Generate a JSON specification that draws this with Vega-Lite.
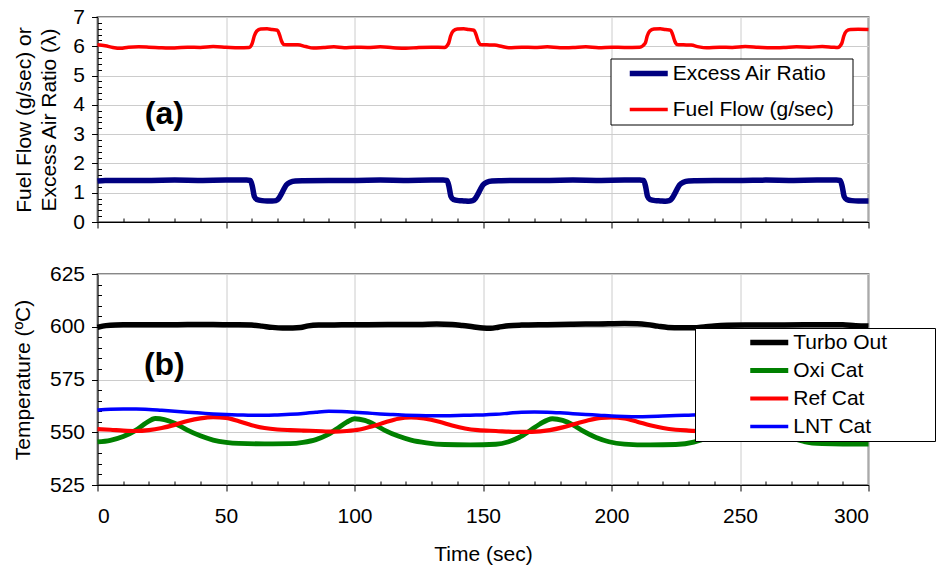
{
  "$schema": "https://vega.github.io/schema/vega-lite/v6.json",
  "background": "white",
  "padding": {"left": 10.5, "top": 5, "right": 0, "bottom": 0},
  "spacing": 29,
  "config": {
    "font": "Liberation Sans",
    "view": {"stroke": "#888888", "strokeWidth": 2},
    "axis": {
      "labelFont": "Liberation Sans", "labelFontSize": 21, "labelColor": "black",
      "titleFont": "Liberation Sans", "titleFontSize": 21, "titleFontWeight": "normal", "titleColor": "black",
      "domainColor": "black", "domainWidth": 1, "tickColor": "black", "tickWidth": 1,
      "gridColor": "#cccccc", "gridWidth": 1, "labelPadding": 7, "tickCount": 1000, "labelOverlap": false, "format": "d"
    },
    "legend": {
      "labelFont": "Liberation Sans", "labelFontSize": 21, "labelColor": "black", "labelLimit": 0,
      "symbolType": "stroke", "symbolSize": 1444, "strokeColor": "black", "fillColor": "white",
      "orient": "none", "clipHeight": 21, "labelOffset": 2,
      "titleOrient": "right", "titleFontSize": 2, "titleColor": "white"
    }
  },
  "resolve": {
    "scale": {"color": "independent", "strokeWidth": "independent"},
    "legend": {"color": "independent", "strokeWidth": "independent"}
  },
  "vconcat": [
    {
      "width": 771,
      "height": 205,
      "layer": [
        {
          "data": {"values": [
            {"s":"Excess Air Ratio","t":0,"v":1.40},{"s":"Excess Air Ratio","t":3,"v":1.42},{"s":"Excess Air Ratio","t":10,"v":1.42},{"s":"Excess Air Ratio","t":20,"v":1.42},{"s":"Excess Air Ratio","t":30,"v":1.43},{"s":"Excess Air Ratio","t":40,"v":1.42},{"s":"Excess Air Ratio","t":50,"v":1.43},{"s":"Excess Air Ratio","t":58,"v":1.43},
            {"s":"Excess Air Ratio","t":59.5,"v":1.42},{"s":"Excess Air Ratio","t":60.3,"v":1.2},{"s":"Excess Air Ratio","t":61,"v":0.88},{"s":"Excess Air Ratio","t":62,"v":0.77},{"s":"Excess Air Ratio","t":64,"v":0.73},{"s":"Excess Air Ratio","t":66,"v":0.72},{"s":"Excess Air Ratio","t":68,"v":0.72},{"s":"Excess Air Ratio","t":69.5,"v":0.73},{"s":"Excess Air Ratio","t":70.5,"v":0.8},{"s":"Excess Air Ratio","t":71.5,"v":0.95},{"s":"Excess Air Ratio","t":72.5,"v":1.12},{"s":"Excess Air Ratio","t":73.5,"v":1.27},{"s":"Excess Air Ratio","t":75,"v":1.36},{"s":"Excess Air Ratio","t":77,"v":1.40},{"s":"Excess Air Ratio","t":80,"v":1.41},
            {"s":"Excess Air Ratio","t":90,"v":1.42},{"s":"Excess Air Ratio","t":100,"v":1.42},{"s":"Excess Air Ratio","t":110,"v":1.43},{"s":"Excess Air Ratio","t":120,"v":1.42},{"s":"Excess Air Ratio","t":130,"v":1.43},{"s":"Excess Air Ratio","t":134.5,"v":1.43},
            {"s":"Excess Air Ratio","t":136,"v":1.42},{"s":"Excess Air Ratio","t":136.8,"v":1.2},{"s":"Excess Air Ratio","t":137.5,"v":0.88},{"s":"Excess Air Ratio","t":138.5,"v":0.77},{"s":"Excess Air Ratio","t":140.5,"v":0.73},{"s":"Excess Air Ratio","t":142.5,"v":0.72},{"s":"Excess Air Ratio","t":144.5,"v":0.71},{"s":"Excess Air Ratio","t":146,"v":0.73},{"s":"Excess Air Ratio","t":147,"v":0.8},{"s":"Excess Air Ratio","t":148,"v":0.95},{"s":"Excess Air Ratio","t":149,"v":1.12},{"s":"Excess Air Ratio","t":150,"v":1.27},{"s":"Excess Air Ratio","t":151.5,"v":1.36},{"s":"Excess Air Ratio","t":153.5,"v":1.40},{"s":"Excess Air Ratio","t":157,"v":1.41},
            {"s":"Excess Air Ratio","t":165,"v":1.42},{"s":"Excess Air Ratio","t":175,"v":1.42},{"s":"Excess Air Ratio","t":185,"v":1.43},{"s":"Excess Air Ratio","t":195,"v":1.42},{"s":"Excess Air Ratio","t":205,"v":1.43},{"s":"Excess Air Ratio","t":211,"v":1.43},
            {"s":"Excess Air Ratio","t":212.5,"v":1.42},{"s":"Excess Air Ratio","t":213.3,"v":1.2},{"s":"Excess Air Ratio","t":214,"v":0.88},{"s":"Excess Air Ratio","t":215,"v":0.77},{"s":"Excess Air Ratio","t":217,"v":0.73},{"s":"Excess Air Ratio","t":219,"v":0.72},{"s":"Excess Air Ratio","t":221,"v":0.71},{"s":"Excess Air Ratio","t":222.5,"v":0.73},{"s":"Excess Air Ratio","t":223.5,"v":0.8},{"s":"Excess Air Ratio","t":224.5,"v":0.95},{"s":"Excess Air Ratio","t":225.5,"v":1.12},{"s":"Excess Air Ratio","t":226.5,"v":1.27},{"s":"Excess Air Ratio","t":228,"v":1.36},{"s":"Excess Air Ratio","t":230,"v":1.40},{"s":"Excess Air Ratio","t":233,"v":1.41},
            {"s":"Excess Air Ratio","t":240,"v":1.42},{"s":"Excess Air Ratio","t":250,"v":1.42},{"s":"Excess Air Ratio","t":260,"v":1.43},{"s":"Excess Air Ratio","t":270,"v":1.42},{"s":"Excess Air Ratio","t":280,"v":1.43},{"s":"Excess Air Ratio","t":287.5,"v":1.43},
            {"s":"Excess Air Ratio","t":289,"v":1.42},{"s":"Excess Air Ratio","t":289.8,"v":1.2},{"s":"Excess Air Ratio","t":290.5,"v":0.88},{"s":"Excess Air Ratio","t":291.5,"v":0.77},{"s":"Excess Air Ratio","t":293.5,"v":0.73},{"s":"Excess Air Ratio","t":296,"v":0.72},{"s":"Excess Air Ratio","t":300,"v":0.72},

            {"s":"Fuel Flow (g/sec)","t":0,"v":6.05},{"s":"Fuel Flow (g/sec)","t":3,"v":6.02},{"s":"Fuel Flow (g/sec)","t":6,"v":5.96},{"s":"Fuel Flow (g/sec)","t":9,"v":5.93},{"s":"Fuel Flow (g/sec)","t":12,"v":5.97},{"s":"Fuel Flow (g/sec)","t":16,"v":5.98},{"s":"Fuel Flow (g/sec)","t":20,"v":5.97},{"s":"Fuel Flow (g/sec)","t":25,"v":5.95},{"s":"Fuel Flow (g/sec)","t":30,"v":5.94},{"s":"Fuel Flow (g/sec)","t":35,"v":5.97},{"s":"Fuel Flow (g/sec)","t":40,"v":5.96},{"s":"Fuel Flow (g/sec)","t":45,"v":5.99},{"s":"Fuel Flow (g/sec)","t":50,"v":5.97},{"s":"Fuel Flow (g/sec)","t":55,"v":5.95},{"s":"Fuel Flow (g/sec)","t":59,"v":5.96},
            {"s":"Fuel Flow (g/sec)","t":60.2,"v":6.1},{"s":"Fuel Flow (g/sec)","t":61,"v":6.35},{"s":"Fuel Flow (g/sec)","t":62,"v":6.52},{"s":"Fuel Flow (g/sec)","t":63.5,"v":6.59},{"s":"Fuel Flow (g/sec)","t":66,"v":6.6},{"s":"Fuel Flow (g/sec)","t":68,"v":6.57},{"s":"Fuel Flow (g/sec)","t":70,"v":6.55},{"s":"Fuel Flow (g/sec)","t":70.8,"v":6.4},{"s":"Fuel Flow (g/sec)","t":71.6,"v":6.18},{"s":"Fuel Flow (g/sec)","t":72.5,"v":6.06},{"s":"Fuel Flow (g/sec)","t":75,"v":6.05},{"s":"Fuel Flow (g/sec)","t":78,"v":6.05},{"s":"Fuel Flow (g/sec)","t":81,"v":5.99},{"s":"Fuel Flow (g/sec)","t":84,"v":5.94},{"s":"Fuel Flow (g/sec)","t":88,"v":5.96},{"s":"Fuel Flow (g/sec)","t":92,"v":5.98},{"s":"Fuel Flow (g/sec)","t":96,"v":5.95},{"s":"Fuel Flow (g/sec)","t":100,"v":5.97},{"s":"Fuel Flow (g/sec)","t":105,"v":5.96},{"s":"Fuel Flow (g/sec)","t":110,"v":5.98},{"s":"Fuel Flow (g/sec)","t":115,"v":5.95},{"s":"Fuel Flow (g/sec)","t":120,"v":5.93},{"s":"Fuel Flow (g/sec)","t":125,"v":5.96},{"s":"Fuel Flow (g/sec)","t":130,"v":5.97},{"s":"Fuel Flow (g/sec)","t":135,"v":5.96},
            {"s":"Fuel Flow (g/sec)","t":136.6,"v":6.1},{"s":"Fuel Flow (g/sec)","t":137.4,"v":6.35},{"s":"Fuel Flow (g/sec)","t":138.4,"v":6.52},{"s":"Fuel Flow (g/sec)","t":140,"v":6.59},{"s":"Fuel Flow (g/sec)","t":142.5,"v":6.6},{"s":"Fuel Flow (g/sec)","t":144.5,"v":6.57},{"s":"Fuel Flow (g/sec)","t":146.5,"v":6.55},{"s":"Fuel Flow (g/sec)","t":147.3,"v":6.4},{"s":"Fuel Flow (g/sec)","t":148.1,"v":6.18},{"s":"Fuel Flow (g/sec)","t":149,"v":6.06},{"s":"Fuel Flow (g/sec)","t":151.5,"v":6.05},{"s":"Fuel Flow (g/sec)","t":154.5,"v":6.04},{"s":"Fuel Flow (g/sec)","t":157.5,"v":5.99},{"s":"Fuel Flow (g/sec)","t":160,"v":5.95},{"s":"Fuel Flow (g/sec)","t":165,"v":5.97},{"s":"Fuel Flow (g/sec)","t":170,"v":5.96},{"s":"Fuel Flow (g/sec)","t":175,"v":5.98},{"s":"Fuel Flow (g/sec)","t":180,"v":5.95},{"s":"Fuel Flow (g/sec)","t":185,"v":5.96},{"s":"Fuel Flow (g/sec)","t":190,"v":5.98},{"s":"Fuel Flow (g/sec)","t":195,"v":5.95},{"s":"Fuel Flow (g/sec)","t":200,"v":5.97},{"s":"Fuel Flow (g/sec)","t":205,"v":5.96},{"s":"Fuel Flow (g/sec)","t":211,"v":5.97},
            {"s":"Fuel Flow (g/sec)","t":213.1,"v":6.1},{"s":"Fuel Flow (g/sec)","t":213.9,"v":6.35},{"s":"Fuel Flow (g/sec)","t":214.9,"v":6.52},{"s":"Fuel Flow (g/sec)","t":216.5,"v":6.59},{"s":"Fuel Flow (g/sec)","t":219,"v":6.6},{"s":"Fuel Flow (g/sec)","t":221,"v":6.57},{"s":"Fuel Flow (g/sec)","t":223,"v":6.55},{"s":"Fuel Flow (g/sec)","t":223.8,"v":6.4},{"s":"Fuel Flow (g/sec)","t":224.6,"v":6.18},{"s":"Fuel Flow (g/sec)","t":225.5,"v":6.06},{"s":"Fuel Flow (g/sec)","t":228,"v":6.05},{"s":"Fuel Flow (g/sec)","t":231,"v":6.04},{"s":"Fuel Flow (g/sec)","t":234,"v":5.98},{"s":"Fuel Flow (g/sec)","t":237,"v":5.95},{"s":"Fuel Flow (g/sec)","t":242,"v":5.97},{"s":"Fuel Flow (g/sec)","t":247,"v":5.96},{"s":"Fuel Flow (g/sec)","t":252,"v":5.99},{"s":"Fuel Flow (g/sec)","t":257,"v":5.97},{"s":"Fuel Flow (g/sec)","t":262,"v":5.95},{"s":"Fuel Flow (g/sec)","t":267,"v":5.96},{"s":"Fuel Flow (g/sec)","t":272,"v":5.98},{"s":"Fuel Flow (g/sec)","t":277,"v":5.97},{"s":"Fuel Flow (g/sec)","t":282,"v":5.99},{"s":"Fuel Flow (g/sec)","t":286,"v":5.97},{"s":"Fuel Flow (g/sec)","t":288,"v":5.96},
            {"s":"Fuel Flow (g/sec)","t":289.6,"v":6.1},{"s":"Fuel Flow (g/sec)","t":290.4,"v":6.35},{"s":"Fuel Flow (g/sec)","t":291.4,"v":6.52},{"s":"Fuel Flow (g/sec)","t":293,"v":6.57},{"s":"Fuel Flow (g/sec)","t":296,"v":6.58},{"s":"Fuel Flow (g/sec)","t":300,"v":6.57}
          ]},
          "mark": {"type": "line", "interpolate": "monotone"},
          "encoding": {
            "x": {"field": "t", "type": "quantitative", "scale": {"domain": [0, 300], "nice": false},
              "axis": {"values": [0,10,20,30,40,50,60,70,80,90,100,110,120,130,140,150,160,170,180,190,200,210,220,230,240,250,260,270,280,290,300],
                "labels": false, "title": null, "grid": true,
                "tickSize": {"condition": {"test": "datum.value % 50 === 0", "value": 6}, "value": -4},
                "gridOpacity": {"condition": {"test": "datum.value % 50 === 0", "value": 1}, "value": 0}}},
            "y": {"field": "v", "type": "quantitative", "scale": {"domain": [0, 7], "nice": false},
              "axis": {"values": [0,0.2,0.4,0.6,0.8,1,1.2,1.4,1.6,1.8,2,2.2,2.4,2.6,2.8,3,3.2,3.4,3.6,3.8,4,4.2,4.4,4.6,4.8,5,5.2,5.4,5.6,5.8,6,6.2,6.4,6.6,6.8,7],
                "title": ["Fuel Flow (g/sec) or", "Excess Air Ratio (λ)"], "titleLineHeight": 25, "titlePadding": 13, "grid": true,
                "labelExpr": "abs(datum.value - round(datum.value)) < 0.001 ? format(datum.value, 'd') : ''",
                "tickSize": {"condition": {"test": "abs(datum.value - round(datum.value)) < 0.001", "value": 6}, "value": -4},
                "gridOpacity": {"condition": {"test": "abs(datum.value - round(datum.value)) < 0.001", "value": 1}, "value": 0}}},
            "color": {"field": "s", "type": "nominal",
              "scale": {"domain": ["Excess Air Ratio", "Fuel Flow (g/sec)"], "range": ["#000080", "#ff0000"]},
              "legend": {"title": "\u00a0", "titlePadding": 14, "legendX": 513, "legendY": 41.5, "padding": 4.5, "rowPadding": 14, "symbolOffset": 11.75}},
            "strokeWidth": {"field": "s", "type": "nominal",
              "scale": {"domain": ["Excess Air Ratio", "Fuel Flow (g/sec)"], "range": [5.5, 3.5]},
              "legend": {"title": "\u00a0", "titlePadding": 14, "legendX": 513, "legendY": 41.5, "padding": 4.5, "rowPadding": 14, "symbolOffset": 11.75}}
          }
        },
        {
          "data": {"values": [{"label": "(a)", "t": 26, "v": 3.7}]},
          "mark": {"type": "text", "fontSize": 32, "fontWeight": "bold", "font": "Liberation Sans", "align": "center", "baseline": "middle", "color": "black"},
          "encoding": {
            "x": {"field": "t", "type": "quantitative"},
            "y": {"field": "v", "type": "quantitative"},
            "text": {"field": "label"}
          }
        }
      ]
    },
    {
      "width": 771,
      "height": 211,
      "layer": [
        {
          "data": {"values": [
            {"s":"Turbo Out","t":0,"v":599.7},{"s":"Turbo Out","t":2,"v":600.3},{"s":"Turbo Out","t":5,"v":600.7},{"s":"Turbo Out","t":10,"v":600.9},{"s":"Turbo Out","t":20,"v":601},{"s":"Turbo Out","t":30,"v":601},{"s":"Turbo Out","t":40,"v":601.1},{"s":"Turbo Out","t":50,"v":601},{"s":"Turbo Out","t":55,"v":601},{"s":"Turbo Out","t":60,"v":600.8},{"s":"Turbo Out","t":64,"v":600.3},{"s":"Turbo Out","t":68,"v":599.7},{"s":"Turbo Out","t":72,"v":599.4},{"s":"Turbo Out","t":76,"v":599.4},{"s":"Turbo Out","t":79,"v":599.6},{"s":"Turbo Out","t":82,"v":600.4},{"s":"Turbo Out","t":86,"v":600.8},{"s":"Turbo Out","t":95,"v":600.9},{"s":"Turbo Out","t":105,"v":601},{"s":"Turbo Out","t":115,"v":601.1},{"s":"Turbo Out","t":125,"v":601.1},{"s":"Turbo Out","t":132,"v":601.3},{"s":"Turbo Out","t":138,"v":601.1},{"s":"Turbo Out","t":142,"v":600.6},{"s":"Turbo Out","t":146,"v":600},{"s":"Turbo Out","t":150,"v":599.4},{"s":"Turbo Out","t":153,"v":599.3},{"s":"Turbo Out","t":156,"v":599.8},{"s":"Turbo Out","t":160,"v":600.5},{"s":"Turbo Out","t":165,"v":600.8},{"s":"Turbo Out","t":175,"v":601},{"s":"Turbo Out","t":185,"v":601.2},{"s":"Turbo Out","t":195,"v":601.3},{"s":"Turbo Out","t":205,"v":601.5},{"s":"Turbo Out","t":210,"v":601.4},{"s":"Turbo Out","t":214,"v":601},{"s":"Turbo Out","t":218,"v":600.3},{"s":"Turbo Out","t":222,"v":599.7},{"s":"Turbo Out","t":227,"v":599.5},{"s":"Turbo Out","t":232,"v":599.5},{"s":"Turbo Out","t":236,"v":599.9},{"s":"Turbo Out","t":240,"v":600.4},{"s":"Turbo Out","t":245,"v":600.7},{"s":"Turbo Out","t":255,"v":600.8},{"s":"Turbo Out","t":265,"v":600.8},{"s":"Turbo Out","t":275,"v":600.9},{"s":"Turbo Out","t":285,"v":601},{"s":"Turbo Out","t":290,"v":600.9},{"s":"Turbo Out","t":295,"v":600.5},{"s":"Turbo Out","t":300,"v":600.3},

            {"s":"Oxi Cat","t":0,"v":545.4},{"s":"Oxi Cat","t":5,"v":546.2},{"s":"Oxi Cat","t":10,"v":548},{"s":"Oxi Cat","t":15,"v":551},{"s":"Oxi Cat","t":19,"v":554.5},{"s":"Oxi Cat","t":22.5,"v":556.5},{"s":"Oxi Cat","t":26,"v":556},{"s":"Oxi Cat","t":30,"v":554.3},{"s":"Oxi Cat","t":35,"v":551},{"s":"Oxi Cat","t":40,"v":548.3},{"s":"Oxi Cat","t":45,"v":546.3},{"s":"Oxi Cat","t":50,"v":545.2},{"s":"Oxi Cat","t":55,"v":544.7},{"s":"Oxi Cat","t":65,"v":544.5},{"s":"Oxi Cat","t":75,"v":544.6},{"s":"Oxi Cat","t":80,"v":545.2},{"s":"Oxi Cat","t":85,"v":546.5},{"s":"Oxi Cat","t":89,"v":548.5},{"s":"Oxi Cat","t":93,"v":551.5},{"s":"Oxi Cat","t":97,"v":554.8},{"s":"Oxi Cat","t":100,"v":556.4},{"s":"Oxi Cat","t":104,"v":555.6},{"s":"Oxi Cat","t":108,"v":553.5},{"s":"Oxi Cat","t":112,"v":550.8},{"s":"Oxi Cat","t":117,"v":548.2},{"s":"Oxi Cat","t":122,"v":546.3},{"s":"Oxi Cat","t":128,"v":545},{"s":"Oxi Cat","t":135,"v":544.2},{"s":"Oxi Cat","t":145,"v":544},{"s":"Oxi Cat","t":155,"v":544.3},{"s":"Oxi Cat","t":160,"v":545.5},{"s":"Oxi Cat","t":164,"v":547.5},{"s":"Oxi Cat","t":168,"v":550.5},{"s":"Oxi Cat","t":172,"v":553.8},{"s":"Oxi Cat","t":177,"v":556.4},{"s":"Oxi Cat","t":181,"v":555.6},{"s":"Oxi Cat","t":185,"v":553.5},{"s":"Oxi Cat","t":189,"v":550.5},{"s":"Oxi Cat","t":194,"v":547.5},{"s":"Oxi Cat","t":199,"v":545.5},{"s":"Oxi Cat","t":205,"v":544.4},{"s":"Oxi Cat","t":215,"v":544},{"s":"Oxi Cat","t":225,"v":544.2},{"s":"Oxi Cat","t":232,"v":545.3},{"s":"Oxi Cat","t":237,"v":547.3},{"s":"Oxi Cat","t":241,"v":550.3},{"s":"Oxi Cat","t":245,"v":553.6},{"s":"Oxi Cat","t":250,"v":556},{"s":"Oxi Cat","t":254,"v":556.5},{"s":"Oxi Cat","t":258,"v":555.5},{"s":"Oxi Cat","t":262,"v":553.5},{"s":"Oxi Cat","t":266,"v":550.5},{"s":"Oxi Cat","t":270,"v":547.5},{"s":"Oxi Cat","t":275,"v":545.6},{"s":"Oxi Cat","t":282,"v":544.6},{"s":"Oxi Cat","t":290,"v":544.4},{"s":"Oxi Cat","t":300,"v":544.4},

            {"s":"Ref Cat","t":0,"v":551.5},{"s":"Ref Cat","t":5,"v":551.2},{"s":"Ref Cat","t":10,"v":550.8},{"s":"Ref Cat","t":15,"v":550.6},{"s":"Ref Cat","t":20,"v":551},{"s":"Ref Cat","t":25,"v":552},{"s":"Ref Cat","t":30,"v":553.5},{"s":"Ref Cat","t":35,"v":555.3},{"s":"Ref Cat","t":40,"v":556.6},{"s":"Ref Cat","t":45,"v":557.2},{"s":"Ref Cat","t":50,"v":556.8},{"s":"Ref Cat","t":55,"v":555.2},{"s":"Ref Cat","t":60,"v":553.3},{"s":"Ref Cat","t":65,"v":552},{"s":"Ref Cat","t":70,"v":551.3},{"s":"Ref Cat","t":75,"v":551},{"s":"Ref Cat","t":80,"v":550.8},{"s":"Ref Cat","t":85,"v":550.6},{"s":"Ref Cat","t":92,"v":550.3},{"s":"Ref Cat","t":97,"v":550.6},{"s":"Ref Cat","t":102,"v":551.3},{"s":"Ref Cat","t":107,"v":552.8},{"s":"Ref Cat","t":112,"v":554.7},{"s":"Ref Cat","t":117,"v":556.4},{"s":"Ref Cat","t":122,"v":557},{"s":"Ref Cat","t":127,"v":556.5},{"s":"Ref Cat","t":133,"v":555},{"s":"Ref Cat","t":138,"v":553.2},{"s":"Ref Cat","t":143,"v":551.8},{"s":"Ref Cat","t":148,"v":551},{"s":"Ref Cat","t":155,"v":550.6},{"s":"Ref Cat","t":163,"v":550.2},{"s":"Ref Cat","t":169,"v":550.2},{"s":"Ref Cat","t":176,"v":551},{"s":"Ref Cat","t":181,"v":552.3},{"s":"Ref Cat","t":186,"v":554},{"s":"Ref Cat","t":191,"v":555.7},{"s":"Ref Cat","t":196,"v":556.8},{"s":"Ref Cat","t":200,"v":557},{"s":"Ref Cat","t":205,"v":556.5},{"s":"Ref Cat","t":210,"v":555},{"s":"Ref Cat","t":215,"v":553.3},{"s":"Ref Cat","t":220,"v":552},{"s":"Ref Cat","t":225,"v":551.2},{"s":"Ref Cat","t":230,"v":550.8},{"s":"Ref Cat","t":240,"v":550.4},{"s":"Ref Cat","t":246,"v":550.2},{"s":"Ref Cat","t":252,"v":551},{"s":"Ref Cat","t":258,"v":552.5},{"s":"Ref Cat","t":264,"v":554.5},{"s":"Ref Cat","t":270,"v":556.3},{"s":"Ref Cat","t":276,"v":557},{"s":"Ref Cat","t":282,"v":556.5},{"s":"Ref Cat","t":288,"v":555},{"s":"Ref Cat","t":294,"v":553.2},{"s":"Ref Cat","t":300,"v":552},

            {"s":"LNT Cat","t":0,"v":560.5},{"s":"LNT Cat","t":5,"v":560.9},{"s":"LNT Cat","t":10,"v":561},{"s":"LNT Cat","t":15,"v":561},{"s":"LNT Cat","t":20,"v":560.8},{"s":"LNT Cat","t":25,"v":560.4},{"s":"LNT Cat","t":30,"v":560},{"s":"LNT Cat","t":35,"v":559.5},{"s":"LNT Cat","t":40,"v":559.1},{"s":"LNT Cat","t":45,"v":558.7},{"s":"LNT Cat","t":50,"v":558.4},{"s":"LNT Cat","t":55,"v":558.2},{"s":"LNT Cat","t":60,"v":558},{"s":"LNT Cat","t":65,"v":558},{"s":"LNT Cat","t":70,"v":558.2},{"s":"LNT Cat","t":75,"v":558.5},{"s":"LNT Cat","t":80,"v":558.9},{"s":"LNT Cat","t":85,"v":559.5},{"s":"LNT Cat","t":90,"v":559.9},{"s":"LNT Cat","t":95,"v":559.8},{"s":"LNT Cat","t":100,"v":559.5},{"s":"LNT Cat","t":105,"v":559.1},{"s":"LNT Cat","t":110,"v":558.7},{"s":"LNT Cat","t":115,"v":558.4},{"s":"LNT Cat","t":120,"v":558.1},{"s":"LNT Cat","t":125,"v":557.9},{"s":"LNT Cat","t":130,"v":557.8},{"s":"LNT Cat","t":135,"v":557.8},{"s":"LNT Cat","t":140,"v":557.9},{"s":"LNT Cat","t":145,"v":558.1},{"s":"LNT Cat","t":150,"v":558.2},{"s":"LNT Cat","t":155,"v":558.5},{"s":"LNT Cat","t":160,"v":559},{"s":"LNT Cat","t":165,"v":559.5},{"s":"LNT Cat","t":170,"v":559.6},{"s":"LNT Cat","t":175,"v":559.5},{"s":"LNT Cat","t":180,"v":559.2},{"s":"LNT Cat","t":185,"v":558.8},{"s":"LNT Cat","t":190,"v":558.4},{"s":"LNT Cat","t":195,"v":558.1},{"s":"LNT Cat","t":200,"v":557.7},{"s":"LNT Cat","t":205,"v":557.5},{"s":"LNT Cat","t":210,"v":557.4},{"s":"LNT Cat","t":215,"v":557.5},{"s":"LNT Cat","t":220,"v":557.7},{"s":"LNT Cat","t":225,"v":557.9},{"s":"LNT Cat","t":230,"v":558.1},{"s":"LNT Cat","t":240,"v":558.6},{"s":"LNT Cat","t":245,"v":559},{"s":"LNT Cat","t":250,"v":559.2},{"s":"LNT Cat","t":260,"v":558.8},{"s":"LNT Cat","t":270,"v":558.3},{"s":"LNT Cat","t":280,"v":557.9},{"s":"LNT Cat","t":290,"v":557.7},{"s":"LNT Cat","t":300,"v":557.8}
          ]},
          "mark": {"type": "line", "interpolate": "monotone"},
          "encoding": {
            "x": {"field": "t", "type": "quantitative", "scale": {"domain": [0, 300], "nice": false},
              "axis": {"values": [0,10,20,30,40,50,60,70,80,90,100,110,120,130,140,150,160,170,180,190,200,210,220,230,240,250,260,270,280,290,300],
                "title": "Time (sec)", "titlePadding": 17, "grid": true, "labelPadding": 14,
                "labelExpr": "datum.value % 50 === 0 ? datum.label : ''",
                "tickSize": {"condition": {"test": "datum.value % 50 === 0", "value": 6}, "value": -4},
                "gridOpacity": {"condition": {"test": "datum.value % 50 === 0", "value": 1}, "value": 0}}},
            "y": {"field": "v", "type": "quantitative", "scale": {"domain": [525, 625], "nice": false},
              "axis": {"values": [525,530,535,540,545,550,555,560,565,570,575,580,585,590,595,600,605,610,615,620,625],
                "title": "Temperature (ºC)", "titlePadding": 16, "grid": true,
                "labelExpr": "datum.value % 25 === 0 ? datum.label : ''",
                "tickSize": {"condition": {"test": "datum.value % 25 === 0", "value": 6}, "value": -4},
                "gridOpacity": {"condition": {"test": "datum.value % 25 === 0", "value": 1}, "value": 0}}},
            "color": {"field": "s", "type": "nominal",
              "scale": {"domain": ["Turbo Out", "Oxi Cat", "Ref Cat", "LNT Cat"], "range": ["#000000", "#008000", "#ff0000", "#0000ff"]},
              "legend": {"title": "\u00a0", "titlePadding": 44, "legendX": 597.5, "legendY": 54, "padding": 4, "rowPadding": 6, "symbolOffset": 48.25}},
            "strokeWidth": {"field": "s", "type": "nominal",
              "scale": {"domain": ["Turbo Out", "Oxi Cat", "Ref Cat", "LNT Cat"], "range": [5.5, 3.5, 3.5, 3.5]},
              "legend": {"title": "\u00a0", "titlePadding": 44, "legendX": 597.5, "legendY": 54, "padding": 4, "rowPadding": 6, "symbolOffset": 48.25}}
          }
        },
        {
          "data": {"values": [{"label": "(b)", "t": 26, "v": 582}]},
          "mark": {"type": "text", "fontSize": 32, "fontWeight": "bold", "font": "Liberation Sans", "align": "center", "baseline": "middle", "color": "black"},
          "encoding": {
            "x": {"field": "t", "type": "quantitative"},
            "y": {"field": "v", "type": "quantitative"},
            "text": {"field": "label"}
          }
        }
      ]
    }
  ]
}
